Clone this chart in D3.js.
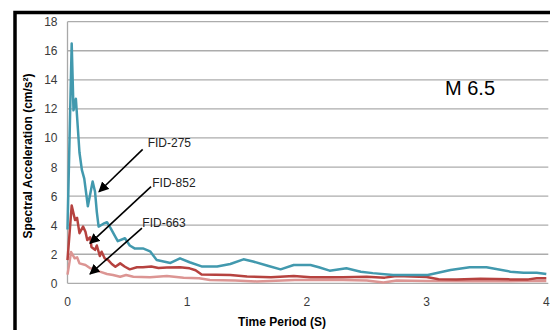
<!DOCTYPE html>
<html lang="en">
  <head>
    <meta charset="utf-8">
    <title>Spectral Acceleration M 6.5</title>
    <script src="https://d3js.org/d3.v7.js"></script>
    <style>
      body { margin: 0; background: white; }
      * { font-family: "Liberation Sans", Arial, sans-serif; }
    </style>
  </head>
  <body>
    <script type="text/javascript">

      // data
      const yTicks = [0, 2, 4, 6, 8, 10, 12, 14, 16, 18];
      const xTicks = [0, 1, 2, 3, 4];

      const fid275T  = [0, 0.035, 0.05, 0.07, 0.1, 0.12, 0.14, 0.17, 0.21, 0.23, 0.245, 0.26, 0.3, 0.33, 0.36, 0.4, 0.42, 0.48, 0.52, 0.56, 0.63, 0.69, 0.745, 0.86, 0.94, 1.02, 1.12, 1.25, 1.36, 1.47, 1.55, 1.68, 1.78, 1.89, 2.03, 2.1, 2.19, 2.33, 2.45, 2.55, 2.72, 3.01, 3.2, 3.36, 3.5, 3.7, 3.81, 3.92, 4.0];
      const fid275SA = [3.7, 16.5, 11.9, 12.7, 9.0, 7.8, 7.2, 5.3, 7.0, 6.3, 4.9, 3.9, 4.1, 4.2, 3.8, 3.2, 2.9, 3.1, 2.6, 2.4, 2.4, 2.2, 1.6, 1.4, 1.72, 1.45, 1.16, 1.16, 1.33, 1.65, 1.5, 1.19, 0.96, 1.26, 1.26, 1.1, 0.87, 1.03, 0.8, 0.7, 0.57, 0.57, 0.92, 1.1, 1.1, 0.8, 0.73, 0.73, 0.64];

      const fid852T  = [0, 0.035, 0.063, 0.08, 0.1, 0.13, 0.15, 0.165, 0.19, 0.2, 0.23, 0.245, 0.27, 0.285, 0.31, 0.34, 0.37, 0.4, 0.44, 0.48, 0.52, 0.58, 0.63, 0.7, 0.76, 0.83, 0.94, 1.02, 1.07, 1.12, 1.36, 1.5, 1.7, 1.89, 2.03, 2.3, 2.5, 2.65, 2.75, 3.0, 3.1, 3.25, 3.45, 3.7, 3.85, 3.92, 4.0];
      const fid852SA = [1.6, 5.35, 4.35, 4.5, 3.45, 3.9, 3.55, 2.98, 3.17, 2.5, 2.3, 2.6, 1.88, 2.17, 1.72, 1.6, 1.33, 1.14, 1.37, 1.14, 0.96, 1.1, 1.1, 1.15, 1.05, 1.08, 1.1, 1.03, 0.9, 0.6, 0.57, 0.47, 0.42, 0.5, 0.41, 0.42, 0.45, 0.39, 0.5, 0.43, 0.28, 0.27, 0.32, 0.27, 0.27, 0.34, 0.34];

      const fid663T  = [0, 0.03, 0.06, 0.08, 0.1, 0.15, 0.19, 0.23, 0.27, 0.33, 0.38, 0.44, 0.49, 0.55, 0.69, 0.83, 0.97, 1.1, 1.19, 1.4, 1.58, 1.9, 2.2, 2.5, 2.64, 2.75, 3.0, 3.4, 3.8, 4.0];
      const fid663SA = [0.6, 2.15, 1.72, 1.79, 1.37, 1.26, 1.03, 0.96, 0.8, 0.64, 0.57, 0.45, 0.57, 0.45, 0.41, 0.5, 0.39, 0.34, 0.23, 0.2, 0.13, 0.22, 0.24, 0.2, 0.06, 0.2, 0.15, 0.14, 0.15, 0.15];

      const seriesNames  = ["FID-275", "FID-852", "FID-663"];
      const seriesColors = ["#4299ae", "#b6423f", "#dc9593"];

      // annotations in data units
      const noteText  = ["FID-275", "FID-852", "FID-663"];
      const noteLabel = [[0.67, 9.4], [0.708, 6.65], [0.625, 3.9]];
      const noteFrom  = [[0.628, 9.22], [0.698, 6.65], [0.622, 3.79]];
      const noteTo    = [[0.263, 6.3], [0.188, 2.75], [0.188, 0.64]];

      const w = 550;
      const h = 330;
      const margin = {top: 21.7, left: 67.5, right: 3.5, bottom: 46.7};
      const innerHeight = h - margin.top - margin.bottom;

      const xScale = d3.scaleLinear().domain([0, 4]).range([0, 478.8]);
      const yScale = d3.scaleLinear().domain([0, 18]).range([innerHeight, 0]);

      const svg = d3.select("body")
        .append("svg")
        .attr("width", w)
        .attr("height", h);

      // outer black frame, only top and left edges show
      svg.append("path")
        .attr("d", `M15,${h} L15,12.5 L${w},12.5`)
        .attr("fill", "none")
        .attr("stroke", "black")
        .attr("stroke-width", 3.5);

      const plot = svg.append("g")
        .attr("id", "plot")
        .attr("transform", `translate(${margin.left}, ${margin.top})`);

      // gridlines
      plot.selectAll("line.grid")
        .data(yTicks)
        .enter()
        .append("line")
        .attr("class", "grid")
        .attr("x1", 0)
        .attr("x2", xScale(4) + 2)
        .attr("y1", d => yScale(d))
        .attr("y2", d => yScale(d))
        .attr("stroke", "#acacac")
        .attr("stroke-width", 1.3);

      // y axis line
      plot.append("line")
        .attr("x1", 0).attr("x2", 0)
        .attr("y1", yScale(18)).attr("y2", yScale(0))
        .attr("stroke", "#a8a8a8")
        .attr("stroke-width", 1.3);

      // tick labels
      plot.selectAll("text.ytick")
        .data(yTicks)
        .enter()
        .append("text")
        .attr("class", "ytick")
        .attr("x", -10)
        .attr("y", d => yScale(d) + 4.5)
        .attr("text-anchor", "end")
        .attr("font-size", 12)
        .attr("fill", "#3a3a3a")
        .text(d => d);

      plot.selectAll("text.xtick")
        .data(xTicks)
        .enter()
        .append("text")
        .attr("class", "xtick")
        .attr("x", d => xScale(d))
        .attr("y", yScale(0) + 22.5)
        .attr("text-anchor", "middle")
        .attr("font-size", 12)
        .attr("fill", "#3a3a3a")
        .text(d => d);

      // series lines
      const line = d3.line()
        .x(d => xScale(d[0]))
        .y(d => yScale(d[1]));

      const allSeries = [
        d3.zip(fid275T, fid275SA),
        d3.zip(fid852T, fid852SA),
        d3.zip(fid663T, fid663SA)
      ];

      // light one first so the darker lines sit on top
      [2, 1, 0].forEach(i => {
        plot.append("path")
          .datum(allSeries[i])
          .attr("fill", "none")
          .attr("stroke", seriesColors[i])
          .attr("stroke-width", 2.5)
          .attr("stroke-linejoin", "round")
          .attr("d", line)
          .attr("id", seriesNames[i]);
      });

      // arrows
      svg.append("defs")
        .append("marker")
        .attr("id", "head")
        .attr("viewBox", "0 0 10 10")
        .attr("refX", 9)
        .attr("refY", 5)
        .attr("markerWidth", 6.5)
        .attr("markerHeight", 6.5)
        .attr("orient", "auto")
        .append("path")
        .attr("d", "M0,0 L10,5 L0,10 z")
        .attr("fill", "black");

      noteText.forEach((t, i) => {
        plot.append("line")
          .attr("x1", xScale(noteFrom[i][0]))
          .attr("y1", yScale(noteFrom[i][1]))
          .attr("x2", xScale(noteTo[i][0]))
          .attr("y2", yScale(noteTo[i][1]))
          .attr("stroke", "black")
          .attr("stroke-width", 1.6)
          .attr("marker-end", "url(#head)");

        plot.append("text")
          .attr("x", xScale(noteLabel[i][0]))
          .attr("y", yScale(noteLabel[i][1]))
          .attr("font-size", 12)
          .attr("fill", "#222")
          .text(t);
      });

      // magnitude label
      svg.append("text")
        .attr("x", 445)
        .attr("y", 95)
        .attr("font-size", 20)
        .attr("fill", "black")
        .text("M 6.5");

      // axis titles
      svg.append("text")
        .attr("x", 282)
        .attr("y", 326)
        .attr("text-anchor", "middle")
        .attr("font-size", 12)
        .attr("font-weight", "bold")
        .text("Time Period (S)");

      svg.append("text")
        .attr("transform", "translate(31.5, 156) rotate(-90)")
        .attr("text-anchor", "middle")
        .attr("font-size", 12)
        .attr("font-weight", "bold")
        .text("Spectral Acceleration (cm/s²)");

    </script>
  </body>
</html>
